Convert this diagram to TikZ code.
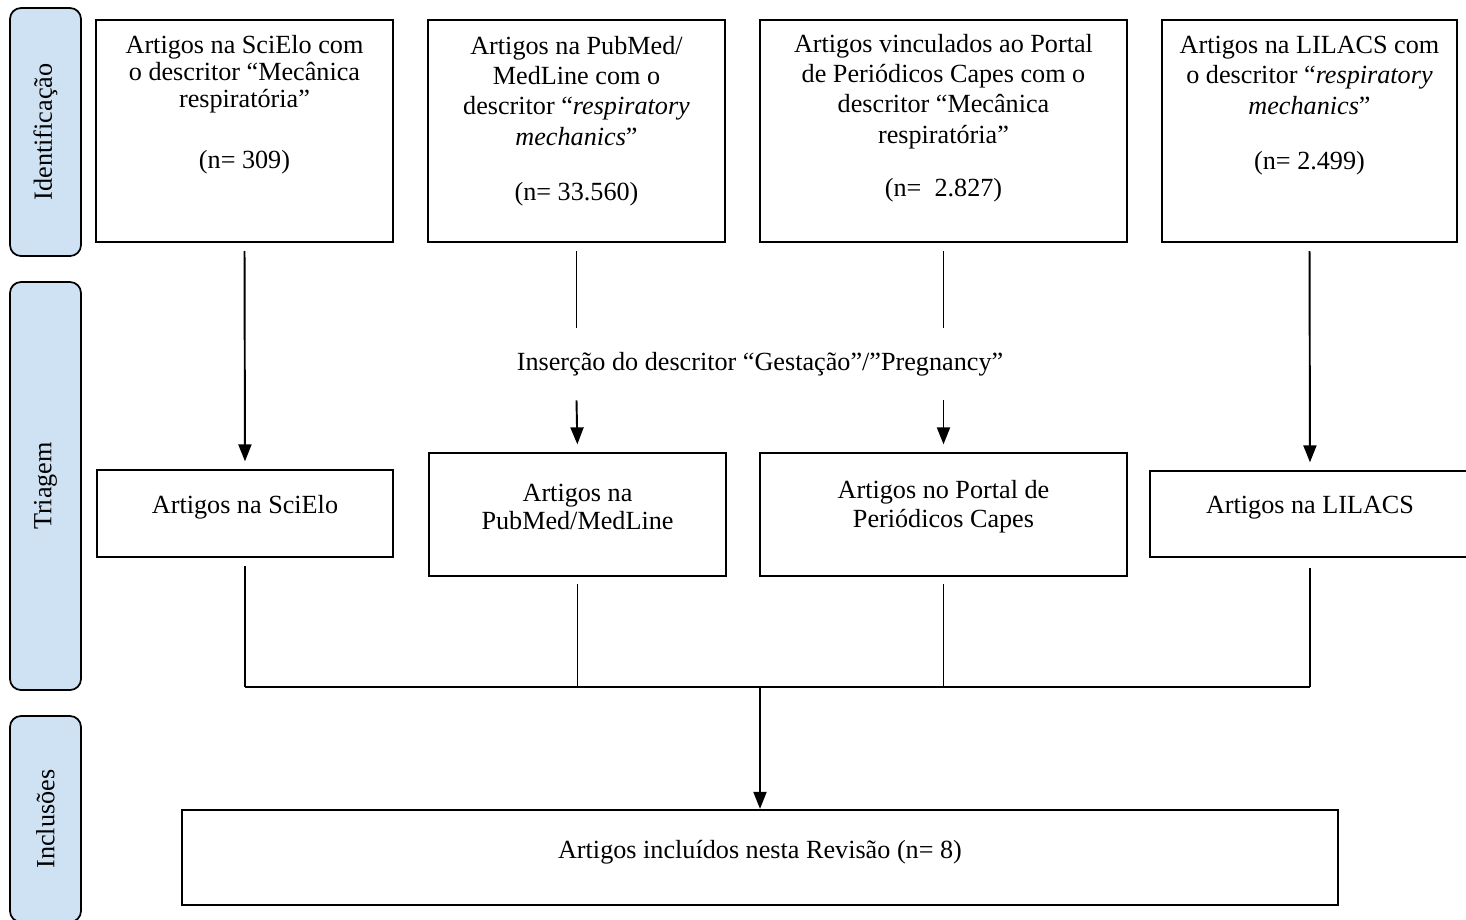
\documentclass[tikz,border=0pt]{standalone}
\usepackage{fontspec}
\setmainfont{Liberation Serif}
\usetikzlibrary{arrows.meta}
\definecolor{stagefill}{RGB}{207,226,243}

\begin{document}
\begin{tikzpicture}[
        stage/.style={
            rectangle,
            rounded corners=0.22cm,
            draw,
            line width=1pt,
            fill=stagefill,
            rotate=90,
            minimum height=1.42cm,
            inner sep=0pt,
            font=\fontsize{14.9}{17.3}\selectfont
        },
        topbox/.style={
            rectangle,
            draw,
            line width=1.3pt,
            inner sep=0pt,
            font=\fontsize{14.9}{17.3}\selectfont
        },
        midbox/.style={
            rectangle,
            draw,
            line width=1.3pt,
            align=center,
            inner sep=0pt,
            font=\fontsize{14.9}{16.3}\selectfont
        },
        line/.style={line width=1.1pt},
        arrow/.style={-{Triangle[length=0.34cm,width=0.26cm]}, line width=1.1pt, shorten >=0.15cm}
    ]

        \clip (0,0) rectangle (29.32,-18.38);

        % etapas
        \node[stage, minimum width=4.96cm] (ident) at (0.91,-2.64) {Identificação};
        \node[stage, minimum width=8.16cm] (triag) at (0.91,-9.72) {Triagem};
        \node[stage, minimum width=4.12cm] (inclu) at (0.91,-16.38) {Inclusões};

        % bases de dados
        \node[topbox, font=\fontsize{14.9}{15.4}\selectfont] (sci) at (4.89,-2.62) {\parbox[c][4.44cm][t]{5.94cm}{\centering\vspace*{0.3cm}Artigos na SciElo com\\o descritor “Mecânica\\respiratória”\\[0.68cm](n= 309)}};
        \node[topbox] (pub) at (11.53,-2.62) {\parbox[c][4.44cm][t]{5.94cm}{\centering\vspace*{0.32cm}Artigos na PubMed/\\MedLine com o\\descritor “\textit{respiratory}\\\textit{mechanics}”\\[0.5cm](n= 33.560)}};
        \node[topbox] (cap) at (18.87,-2.62) {\parbox[c][4.44cm][t]{7.34cm}{\centering\vspace*{0.28cm}Artigos vinculados ao Portal\\de Periódicos Capes com o\\descritor “Mecânica\\respiratória”\\[0.46cm](n=\ \ 2.827)}};
        \node[topbox] (lil) at (26.19,-2.62) {\parbox[c][4.44cm][t]{5.90cm}{\centering\vspace*{0.32cm}Artigos na LILACS com\\o descritor “\textit{respiratory}\\\textit{mechanics}”\\[0.5cm](n= 2.499)}};

        \node[font=\fontsize{14.9}{16.3}\selectfont, minimum height=1.44cm, inner sep=0pt] (ins) at (15.2,-7.28) {Inserção do descritor “Gestação”/”Pregnancy”};

        % triagem
        \node[midbox, minimum width=5.92cm, minimum height=1.74cm] (scib) at (4.90,-10.27) {\parbox{5.6cm}{\centering Artigos na SciElo\par\vspace{0.24cm}}};
        \node[midbox, minimum width=5.94cm, minimum height=2.46cm] (pubb) at (11.55,-10.29) {\parbox{5.6cm}{\centering Artigos na\\PubMed/MedLine\par\vspace{0.3cm}}};
        \node[midbox, minimum width=7.34cm, minimum height=2.46cm] (capb) at (18.87,-10.29) {\parbox{7cm}{\centering Artigos no Portal de\\Periódicos Capes\par\vspace{0.3cm}}};
        \node[midbox, minimum width=6.40cm, minimum height=1.72cm] (lilb) at (26.20,-10.28) {\parbox{6cm}{\centering Artigos na LILACS\par\vspace{0.24cm}}};

        \node[midbox, minimum width=23.12cm, minimum height=1.90cm] (final) at (15.2,-17.15) {\parbox{22cm}{\centering Artigos incluídos nesta Revisão (n= 8)\par\vspace{0.2cm}}};

        \coordinate (merge) at (15.2,-13.74);

        \draw[arrow, shorten <=0.16cm] (sci.south) -- (scib.north);
        \draw[line, shorten <=0.16cm] (pub.south) -- (pub.south |- ins.north);
        \draw[arrow] (pub.south |- ins.south) -- (pubb.north);
        \draw[line, shorten <=0.16cm] (cap.south) -- (cap.south |- ins.north);
        \draw[arrow] (cap.south |- ins.south) -- (capb.north);
        \draw[arrow, shorten <=0.16cm] (lil.south) -- (lilb.north);

        \draw[line, shorten <=0.16cm] (scib.south) -- (scib.south |- merge);
        \draw[line, shorten <=0.14cm] (pubb.south) -- (pubb.south |- merge);
        \draw[line, shorten <=0.14cm] (capb.south) -- (capb.south |- merge);
        \draw[line, shorten <=0.2cm] (lilb.south) -- (lilb.south |- merge);
        \draw[line] (scib.south |- merge) -- (lilb.south |- merge);
        \draw[arrow, shorten >=0pt] (merge) -- (final.north);

    \end{tikzpicture}
\end{document}
